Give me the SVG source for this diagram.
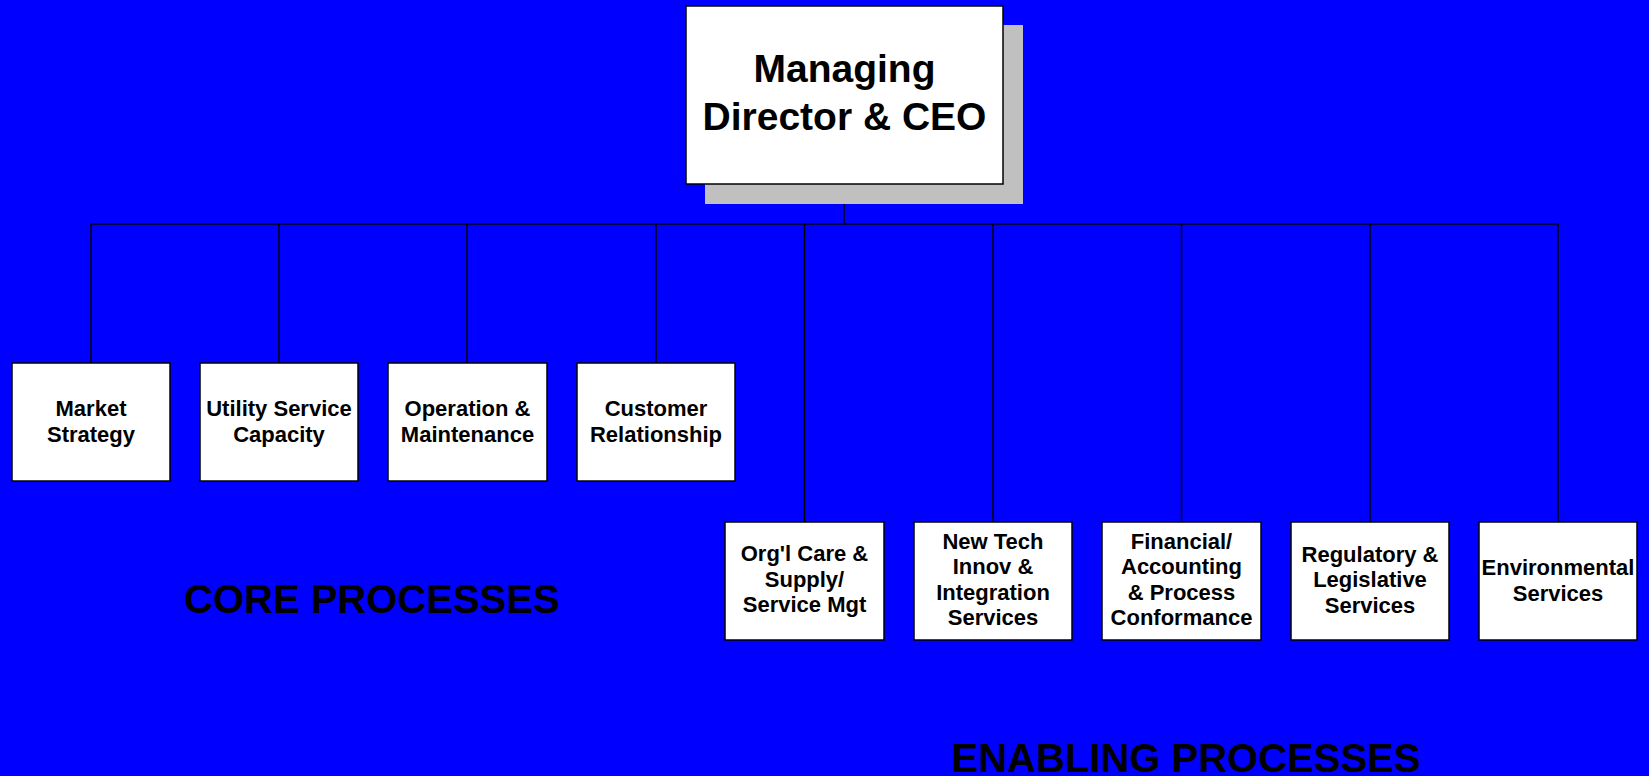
<svg xmlns="http://www.w3.org/2000/svg" width="1649" height="776" viewBox="0 0 1649 776">
  <style>
    .box { fill: #FFFFFF; stroke: #000000; stroke-width: 1.5; }
    .shadow { fill: #C0C0C0; }
    .lbl { font-family: "Liberation Sans", Arial, sans-serif; font-weight: bold; font-size: 22px; fill: #000000; text-anchor: middle; }
    .ceo { font-size: 39px; }
    .section { font-family: "Liberation Sans", Arial, sans-serif; font-weight: bold; font-size: 40px; fill: #000000; }
    .wire { stroke: #000000; stroke-width: 1.5; fill: none; }
  </style>
  <rect x="0" y="0" width="1649" height="776" fill="#0000FF"/>

  <!-- connectors -->
  <g id="connectors">
    <line class="wire" x1="844" y1="184" x2="844" y2="224"/>
    <line class="wire" x1="91" y1="224" x2="1558" y2="224"/>
    <line class="wire" x1="91" y1="224" x2="91" y2="363"/>
    <line class="wire" x1="279" y1="224" x2="279" y2="363"/>
    <line class="wire" x1="467" y1="224" x2="467" y2="363"/>
    <line class="wire" x1="656" y1="224" x2="656" y2="363"/>
    <line class="wire" x1="804.5" y1="224" x2="804.5" y2="522"/>
    <line class="wire" x1="993" y1="224" x2="993" y2="522"/>
    <line class="wire" x1="1181.5" y1="224" x2="1181.5" y2="522"/>
    <line class="wire" x1="1370" y1="224" x2="1370" y2="522"/>
    <line class="wire" x1="1558" y1="224" x2="1558" y2="522"/>
  </g>

  <!-- top node -->
  <g id="ceo">
    <rect class="shadow" x="705" y="25" width="318" height="179"/>
    <rect class="box" x="686" y="6" width="317" height="178"/>
    <text class="lbl ceo" x="844.5" y="82">Managing</text>
    <text class="lbl ceo" x="844.5" y="130">Director &amp; CEO</text>
  </g>

  <!-- core process nodes -->
  <g id="market-strategy">
    <rect class="box" x="12" y="363" width="158" height="118"/>
    <text class="lbl" x="91" y="415.5">Market</text>
    <text class="lbl" x="91" y="441.5">Strategy</text>
  </g>
  <g id="utility-service">
    <rect class="box" x="200" y="363" width="158" height="118"/>
    <text class="lbl" x="279" y="415.5">Utility Service</text>
    <text class="lbl" x="279" y="441.5">Capacity</text>
  </g>
  <g id="operation-maintenance">
    <rect class="box" x="388" y="363" width="159" height="118"/>
    <text class="lbl" x="467.5" y="415.5">Operation &amp;</text>
    <text class="lbl" x="467.5" y="441.5">Maintenance</text>
  </g>
  <g id="customer-relationship">
    <rect class="box" x="577" y="363" width="158" height="118"/>
    <text class="lbl" x="656" y="415.5">Customer</text>
    <text class="lbl" x="656" y="441.5">Relationship</text>
  </g>

  <!-- enabling process nodes -->
  <g id="orgl-care">
    <rect class="box" x="725" y="522" width="159" height="118"/>
    <text class="lbl" x="804.5" y="560.5">Org'l Care &amp;</text>
    <text class="lbl" x="804.5" y="586.5">Supply/</text>
    <text class="lbl" x="804.5" y="612">Service Mgt</text>
  </g>
  <g id="new-tech">
    <rect class="box" x="914" y="522" width="158" height="118"/>
    <text class="lbl" x="993" y="548.5">New Tech</text>
    <text class="lbl" x="993" y="574">Innov &amp;</text>
    <text class="lbl" x="993" y="599.5">Integration</text>
    <text class="lbl" x="993" y="625">Services</text>
  </g>
  <g id="financial">
    <rect class="box" x="1102" y="522" width="159" height="118"/>
    <text class="lbl" x="1181.5" y="548.5">Financial/</text>
    <text class="lbl" x="1181.5" y="574">Accounting</text>
    <text class="lbl" x="1181.5" y="599.5">&amp; Process</text>
    <text class="lbl" x="1181.5" y="625">Conformance</text>
  </g>
  <g id="regulatory">
    <rect class="box" x="1291" y="522" width="158" height="118"/>
    <text class="lbl" x="1370" y="561.5">Regulatory &amp;</text>
    <text class="lbl" x="1370" y="587">Legislative</text>
    <text class="lbl" x="1370" y="612.5">Services</text>
  </g>
  <g id="environmental">
    <rect class="box" x="1479" y="522" width="158" height="118"/>
    <text class="lbl" x="1558" y="574.5">Environmental</text>
    <text class="lbl" x="1558" y="600.5">Services</text>
  </g>

  <!-- section headings -->
  <text class="section" x="184" y="612.5">CORE PROCESSES</text>
  <text class="section" x="951.5" y="771.5">ENABLING PROCESSES</text>
</svg>
